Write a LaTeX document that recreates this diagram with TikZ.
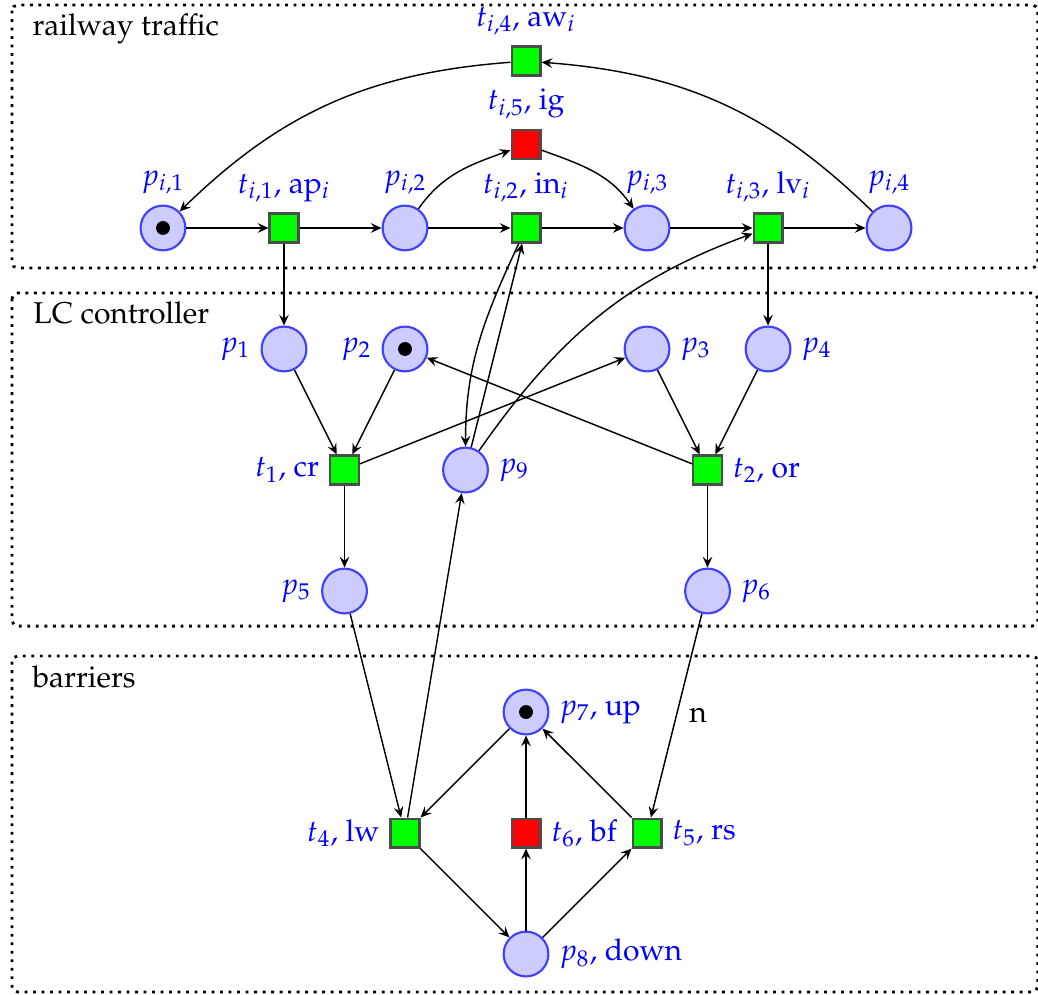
\documentclass[tikz,border=0pt]{standalone}
\usepackage[T1]{fontenc}
\usepackage{mathpazo}
\usetikzlibrary{arrows.meta}

\begin{document}
\begin{tikzpicture}[x=1.5cm,y=1.5cm,font=\fontsize{10.6pt}{12.7pt}\selectfont,
  place/.style={circle,draw=blue!75,fill=blue!20,line width=.75pt,minimum size=15.8pt,inner sep=0},
  held/.style={place,path picture={\fill[black] (path picture bounding box.center) circle (2.45pt);}},
  trans/.style={rectangle,draw=black!70,fill=green,line width=.75pt,minimum size=10.2pt,inner sep=0},
  redtrans/.style={trans,fill=red},
  flow/.style={-{Stealth[length=3.8pt,width=3.4pt,inset=1.4pt]},line width=.5pt},
  zone/.style={dotted,line width=1pt,rounded corners=2pt},
  every label/.style={text=blue}]
\useasboundingbox (-4.347,1.884) rectangle (4.231,-6.331);
% the three zones
\draw[zone] (-4.248,1.843) rectangle (4.229,-.331);
\draw[zone] (-4.248,-.537) rectangle (4.229,-3.29);
\draw[zone] (-4.248,-3.537) rectangle (4.229,-6.314);
\node[anchor=base west,inner sep=0] (lrail) at (-4.083,1.587) {railway traffic};
\node[anchor=base west,inner sep=0] (llc) at (-4.075,-.793) {LC controller};
\node[anchor=base west,inner sep=0] (lbar) at (-4.083,-3.80) {barriers};
% railway traffic
\node[held,label=above:$p_{i,1}$] (pi1) at (-3,0) {};
\node[trans,label=above:{$t_{i,1}$, ap$_i$}] (ti1) at (-2,0) {};
\node[place,label=above:$p_{i,2}$] (pi2) at (-1,0) {};
\node[trans,label=above:{$t_{i,2}$, in$_i$}] (ti2) at (0,0) {};
\node[place,label=above:$p_{i,3}$] (pi3) at (1,0) {};
\node[trans,label=above:{$t_{i,3}$, lv$_i$}] (ti3) at (2,0) {};
\node[place,label=above:$p_{i,4}$] (pi4) at (3,0) {};
\node[redtrans,label=above:{$t_{i,5}$, ig}] (ti5) at (0,.69) {};
\node[trans,label=above:{$t_{i,4}$, aw$_i$}] (ti4) at (0,1.38) {};
% LC controller
\node[place,label=left:$p_1$] (p1) at (-2,-1) {};
\node[held,label=left:$p_2$] (p2) at (-1,-1) {};
\node[place,label=right:$p_3$] (p3) at (1,-1) {};
\node[place,label=right:$p_4$] (p4) at (2,-1) {};
\node[trans,label=left:{$t_1$, cr}] (t1) at (-1.5,-2) {};
\node[place,label=right:$p_9$] (p9) at (-.5,-2) {};
\node[trans,label=right:{$t_2$, or}] (t2) at (1.5,-2) {};
\node[place,label=left:$p_5$] (p5) at (-1.5,-3) {};
\node[place,label=right:$p_6$] (p6) at (1.5,-3) {};
% barriers
\node[held,label=right:{$p_7$, up}] (p7) at (0,-4) {};
\node[trans,label=left:{$t_4$, lw}] (t4) at (-1,-5) {};
\node[redtrans,label=right:{$t_6$, bf}] (t6) at (0,-5) {};
\node[trans,label=right:{$t_5$, rs}] (t5) at (1,-5) {};
\node[place,label=right:{$p_8$, down}] (p8) at (0,-6) {};
% arcs
\draw[flow] (pi1) -- (ti1);
\draw[flow] (ti1) -- (pi2);
\draw[flow] (pi2) -- (ti2);
\draw[flow] (ti2) -- (pi3);
\draw[flow] (pi3) -- (ti3);
\draw[flow] (ti3) -- (pi4);
\draw[flow] (pi2) to[out=55,in=200] (ti5);
\draw[flow] (ti5) to[out=-20,in=125] (pi3);
\draw[flow] (pi4) to[bend right=20] (ti4);
\draw[flow] (ti4) to[bend right=20] (pi1);
\draw[flow] (ti1) -- (p1);
\draw[flow] (ti3) -- (p4);
\draw[flow] (ti2) to[out=245,in=90] (p9);
\draw[flow] (p9) -- (ti2);
\draw[flow] (p9) to[out=55,in=200] (ti3);
\draw[flow] (p1) -- (t1);
\draw[flow] (p2) -- (t1);
\draw[flow] (t1) -- (p3);
\draw[flow] (t2) -- (p2);
\draw[flow] (p3) -- (t2);
\draw[flow] (p4) -- (t2);
\draw[flow] (t1) -- (p5);
\draw[flow] (t2) -- (p6);
\draw[flow] (t4) -- (p9);
\draw[flow] (p5) -- (t4);
\draw[flow] (p6) -- node[right=1pt] {n} (t5);
\draw[flow] (p7) -- (t4);
\draw[flow] (t4) -- (p8);
\draw[flow] (p8) -- (t6);
\draw[flow] (t6) -- (p7);
\draw[flow] (p8) -- (t5);
\draw[flow] (t5) -- (p7);
\end{tikzpicture}
\end{document}
